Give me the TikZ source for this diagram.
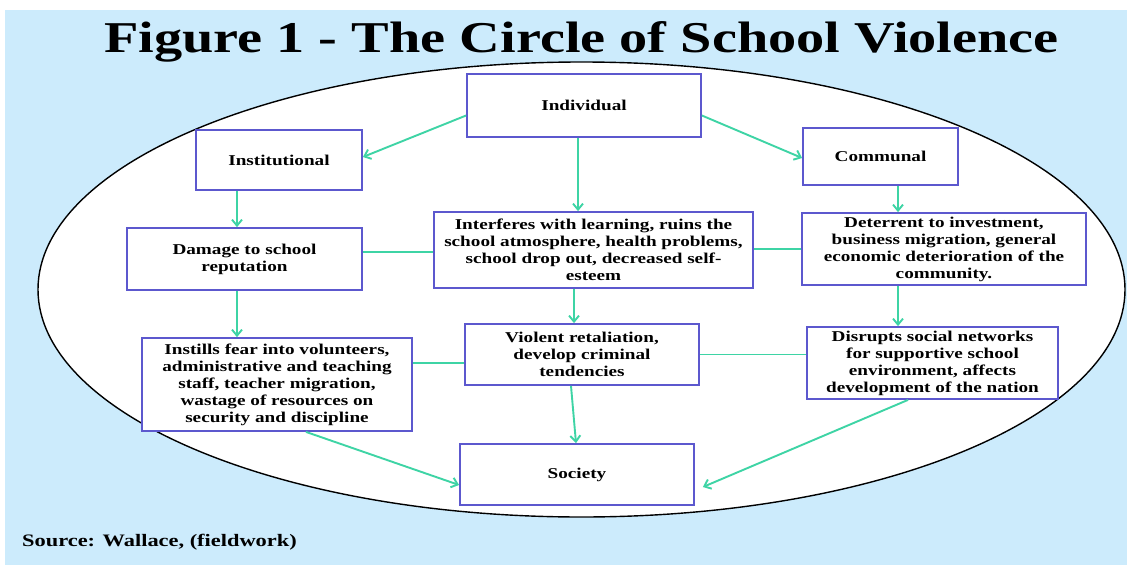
\documentclass[tikz,border=0pt]{standalone}
\usepackage{fontspec}
\setmainfont[FakeStretch=1.28]{Liberation Serif}
\usetikzlibrary{arrows.meta}
\definecolor{skyback}{RGB}{204,235,252}
\definecolor{boxline}{RGB}{92,88,206}
\definecolor{arrgreen}{RGB}{62,212,165}

\begin{document}
\begin{tikzpicture}[x=1pt, y=-1pt,
    box/.style={draw=boxline, line width=1.8pt, fill=white, inner sep=0pt, align=center,
        font=\fontsize{15}{17}\selectfont\bfseries},
    arr/.style={draw=arrgreen, line width=1.9pt, -{Straight Barb[length=6pt, width=10pt]}},
    lnk/.style={draw=arrgreen, line width=1.9pt}]
    \useasboundingbox (0,0) rectangle (1127,565);
    \fill[skyback] (5,10) rectangle (1127,565);
    \draw[line width=1.4pt, fill=white] (581.5,289.5) ellipse [x radius=543.5, y radius=227.5];

    \node[font=\fontsize{44}{44}\selectfont\bfseries, anchor=base, inner sep=0pt] (title) at (581.5,52)
        {Figure 1 - The Circle of School Violence};
    \node[font=\fontsize{17.5}{17.5}\selectfont\bfseries, anchor=base west, inner sep=0pt] (source) at (22,546)
        {Source: Wallace, (fieldwork)};

    % top row
    \node[box, minimum width=234pt, minimum height=63pt] (indiv) at (584,105.5) {Individual};
    \node[box, minimum width=166pt, minimum height=60pt] (inst) at (279,160) {Institutional};
    \node[box, minimum width=155pt, minimum height=57pt] (comm) at (880.5,156.5) {Communal};
    % middle rows
    \node[box, minimum width=235pt, minimum height=62pt] (damage) at (244.5,259)
        {Damage to school\\reputation};
    \node[box, minimum width=319pt, minimum height=76pt] (interf) at (593.5,250)
        {Interferes with learning, ruins the\\school atmosphere, health problems,\\school drop out, decreased self-\\esteem};
    \node[box, minimum width=284pt, minimum height=72pt] (deter) at (944,249)
        {Deterrent to investment,\\business migration, general\\economic deterioration of the\\community.};
    \node[box, minimum width=270pt, minimum height=93pt] (instills) at (277,384.5)
        {Instills fear into volunteers,\\administrative and teaching\\staff, teacher migration,\\wastage of resources on\\security and discipline};
    \node[box, minimum width=234pt, minimum height=61pt] (violent) at (582,354.5)
        {Violent retaliation,\\develop criminal\\tendencies};
    \node[box, minimum width=251pt, minimum height=72pt] (disrupt) at (932.5,363)
        {Disrupts social networks\\for supportive school\\environment, affects\\development of the nation};
    % bottom
    \node[box, minimum width=234pt, minimum height=61pt] (society) at (577,474.5) {Society};

    \draw[arr] ([yshift=-10pt]indiv.west) -- ([yshift=3pt]inst.east);
    \draw[arr] ([yshift=-10pt]indiv.east) -- ([yshift=-1.5pt]comm.west);
    \draw[arr] ([xshift=-6pt]indiv.south) -- ([xshift=-6pt]indiv.south |- interf.north);
    \draw[arr] ([xshift=-7.5pt]damage.north |- inst.south) -- ([xshift=-7.5pt]damage.north);
    \draw[arr] ([xshift=-7.5pt]damage.south) -- ([xshift=-7.5pt]damage.south |- instills.north);
    \draw[arr] ([xshift=17.5pt]comm.south) -- ([xshift=17.5pt]comm.south |- deter.north);
    \draw[arr] ([xshift=-46pt]deter.south) -- ([xshift=-46pt]deter.south |- disrupt.north);
    \draw[arr] ([xshift=-19.5pt]interf.south) -- ([xshift=-19.5pt]interf.south |- violent.north);
    \draw[arr] ([xshift=-11pt]violent.south) -- ([xshift=-1pt]society.north);
    \draw[arr] ([xshift=29pt]instills.south) -- ([yshift=-10.5pt]society.west);
    \draw[arr] ([xshift=-24.5pt]disrupt.south) -- ([shift={(8pt,-12.5pt)}]society.east);

    \draw[lnk] ([yshift=-2pt]interf.west -| damage.east) -- ([yshift=-2pt]interf.west);
    \draw[lnk] ([yshift=1pt]interf.east) -- ([yshift=1pt]interf.east -| deter.west);
    \draw[lnk] ([yshift=-8.5pt]violent.west) -- ([yshift=-8.5pt]violent.west -| instills.east);
    \draw[lnk] (violent.east) -- (violent.east -| disrupt.west);
\end{tikzpicture}
\end{document}
